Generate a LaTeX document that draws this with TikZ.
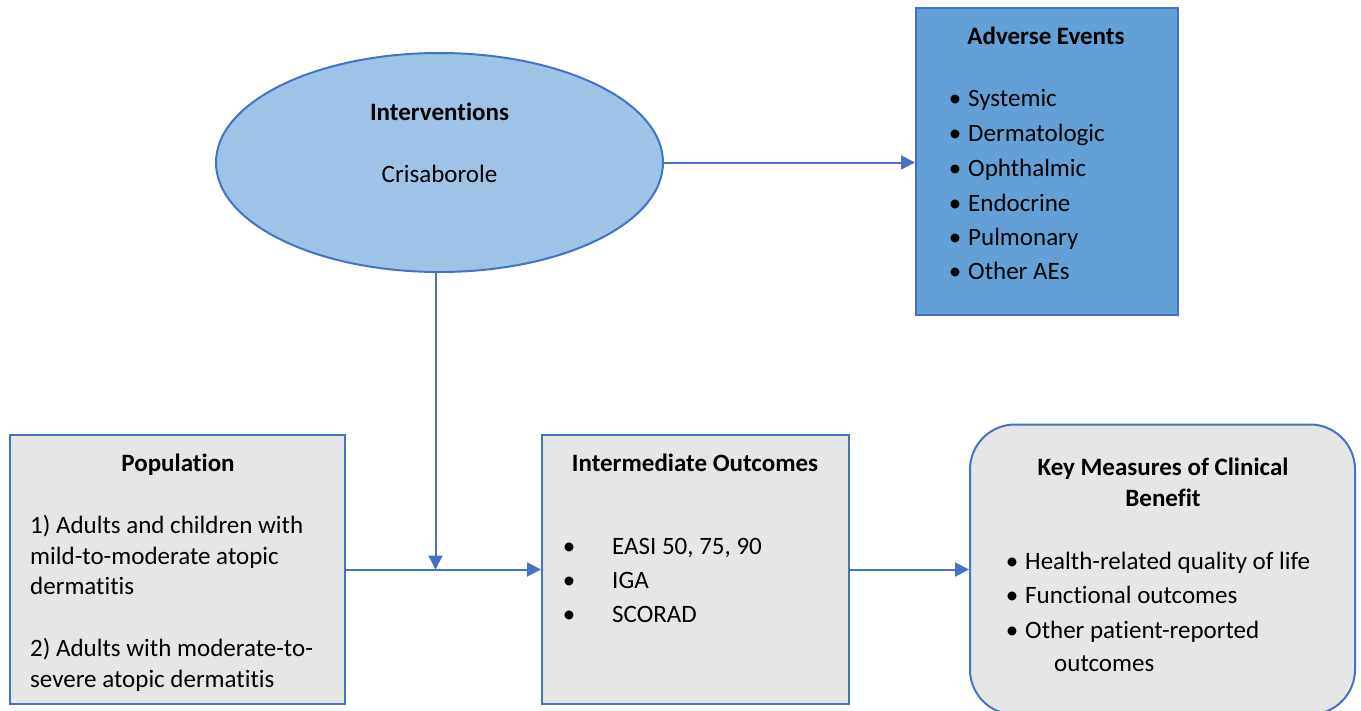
\documentclass[tikz,border=0pt]{standalone}
\usepackage{fontspec}
\setmainfont{Carlito}[Ligatures=NoCommon]
\usetikzlibrary{shapes.geometric,arrows.meta}
\definecolor{cborder}{RGB}{68,114,196}
\definecolor{cellipse}{RGB}{157,195,230}
\definecolor{cadverse}{RGB}{100,160,216}
\definecolor{cgray}{RGB}{231,230,230}

\begin{document}
\begin{tikzpicture}[x=1pt, y=-1pt,
    >={Triangle[length=14pt,width=14pt]},
    box/.style={draw=cborder, line width=2pt, inner sep=0pt},
    txt/.style={anchor=base west, inner sep=0pt, font=\fontsize{25}{30}\selectfont},
    ttl/.style={anchor=base, inner sep=0pt, font=\fontsize{25}{30}\selectfont\bfseries},
    bul/.style={anchor=base, inner sep=0pt, font=\fontsize{25}{30}\selectfont},
    link/.style={->, draw=cborder, fill=cborder, line width=2pt}
  ]
  \useasboundingbox (0,0) rectangle (1361,710);

  % Interventions
  \node[box, ellipse, fill=cellipse, minimum width=447pt, minimum height=219pt] (interv) at (439.5,162.5) {};
  \node[ttl] (intervT) at (439.5,120) {Interventions};
  \node[bul] (crisa) at (439.5,182) {Crisaborole};

  % Adverse events
  \node[box, fill=cadverse, minimum width=262pt, minimum height=307pt] (adverse) at (1047,161.5) {};
  \node[ttl] (adverseT) at (1046,44) {Adverse Events};
  \foreach \y/\t [count=\i] in {106/Systemic, 141/Dermatologic, 176/Ophthalmic, 211/Endocrine, 245/Pulmonary, 279/Other AEs} {
    \node[bul] (aeB\i) at (955,\y) {•};
    \node[txt] (ae\i) at (968,\y) {\t};
  }

  % Population
  \node[box, fill=cgray, minimum width=335pt, minimum height=269pt] (pop) at (177.5,569.5) {};
  \node[ttl] (popT) at (178,471) {Population};
  \node[txt] (pop1) at (30,533) {1) Adults and children with};
  \node[txt] (pop2) at (30,564) {mild-to-moderate atopic};
  \node[txt] (pop3) at (30,594) {dermatitis};
  \node[txt] (pop4) at (30,656) {2) Adults with moderate-to-};
  \node[txt] (pop5) at (30,687) {severe atopic dermatitis};

  % Intermediate outcomes
  \node[box, fill=cgray, minimum width=307pt, minimum height=269pt] (inter) at (695.5,569.5) {};
  \node[ttl] (interT) at (695,471) {Intermediate Outcomes};
  \foreach \y/\t [count=\i] in {554/{EASI 50, 75, 90}, 588/IGA, 622/SCORAD} {
    \node[bul] (ioB\i) at (569,\y) {•};
    \node[txt] (io\i) at (612,\y) {\t};
  }

  % Key measures
  \node[box, fill=cgray, rounded corners=45pt, minimum width=385pt, minimum height=290pt] (key) at (1162.5,569.5) {};
  \node[ttl] (keyT1) at (1163,475) {Key Measures of Clinical};
  \node[ttl] (keyT2) at (1163,506) {Benefit};
  \foreach \y/\t [count=\i] in {569/Health-related quality of life, 603/Functional outcomes, 638/Other patient-reported} {
    \node[bul] (kmB\i) at (1012,\y) {•};
    \node[txt] (km\i) at (1025,\y) {\t};
  }
  \node[txt] (km4) at (1054,671) {outcomes};

  % Connectors
  \draw[link] (interv.east) -- (interv.east -| adverse.west);
  \draw[link] (pop.east) -- (inter.west);
  \draw[link] ([xshift=-4pt]interv.south) -- ([xshift=-4pt]interv.south |- pop.east);
  \draw[link] (inter.east) -- (key.west);
\end{tikzpicture}
\end{document}
